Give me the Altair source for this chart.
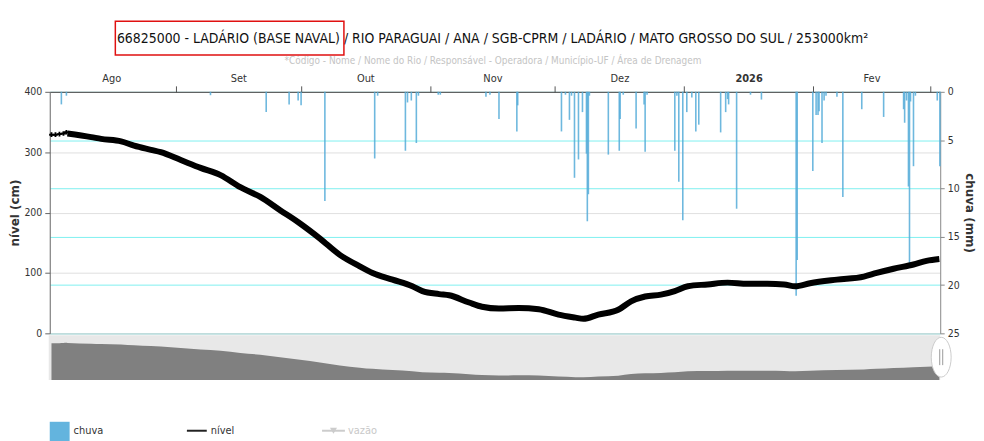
import altair as alt
import pandas as pd

# ---------------- data ----------------
meses = ['Jan', 'Fev', 'Mar', 'Abr', 'Mai', 'Jun', 'Jul', 'Ago', 'Set', 'Out', 'Nov', 'Dez']

titulo_1 = "66825000 - LADÁRIO (BASE NAVAL)"
titulo_2 = "/ RIO PARAGUAI / ANA / SGB-CPRM / LADÁRIO / MATO GROSSO DO SUL / 253000km²"
subtitulo = "*Código - Nome / Nome do Rio / Responsável - Operadora / Município-UF / Área de Drenagem"

inicio, fim = "2025-08-01T18:00:00", "2026-03-03T12:00:00"

chuva_datas = [
    "2025-08-04T13:00", "2025-08-05T18:00", "2025-09-09T08:00", "2025-09-22T17:00", "2025-09-28T05:00",
    "2025-09-30T09:00", "2025-10-01T02:00", "2025-10-06T19:00", "2025-10-18T18:00", "2025-10-19T11:00",
    "2025-10-26T03:00", "2025-10-26T15:00", "2025-10-27T13:00", "2025-10-28T18:00", "2025-10-29T06:00",
    "2025-11-03T00:00", "2025-11-03T12:00", "2025-11-14T11:00", "2025-11-15T10:00", "2025-11-17T14:00",
    "2025-11-21T21:00", "2025-11-22T02:00", "2025-12-02T14:00", "2025-12-03T13:00", "2025-12-04T12:00",
    "2025-12-05T00:00", "2025-12-05T17:00", "2025-12-06T16:00", "2025-12-07T15:00", "2025-12-08T14:00",
    "2025-12-08T19:00", "2025-12-09T01:00", "2025-12-09T07:00", "2025-12-13T20:00", "2025-12-16T11:00",
    "2025-12-16T16:00", "2025-12-17T10:00", "2025-12-20T12:00", "2025-12-22T10:00", "2025-12-22T16:00",
    "2025-12-23T03:00", "2025-12-29T19:00", "2025-12-30T07:00", "2025-12-30T18:00", "2025-12-31T17:00",
    "2026-01-01T16:00", "2026-01-02T21:00", "2026-01-03T20:00", "2026-01-04T13:00", "2026-01-09T19:00",
    "2026-01-11T00:00", "2026-01-11T11:00", "2026-01-11T17:00", "2026-01-13T15:00", "2026-01-16T23:00",
    "2026-01-19T14:00", "2026-01-27T22:00", "2026-01-28T04:00", "2026-01-31T22:00", "2026-02-01T17:00",
    "2026-02-02T04:00", "2026-02-02T10:00", "2026-02-03T03:00", "2026-02-03T15:00", "2026-02-04T02:00",
    "2026-02-06T17:00", "2026-02-08T03:00", "2026-02-12T16:00", "2026-02-17T22:00", "2026-02-22T17:00",
    "2026-02-22T23:00", "2026-02-23T10:00", "2026-02-23T21:00", "2026-02-24T03:00", "2026-02-24T09:00",
    "2026-02-25T02:00", "2026-02-25T13:00", "2026-03-02T19:00", "2026-03-03T10:00",
]
chuva_mm = [
    1.3, 0.4, 0.35, 2.1, 1.3, 0.9, 1.4, 11.3, 6.9, 0.4, 6.1, 1.1, 0.9, 5.3, 0.4,
    0.3, 0.3, 0.5, 0.3, 2.8, 4.1, 1.4, 4.1, 0.3, 2.9, 0.4, 8.9, 7.0, 2.1, 6.4,
    13.4, 10.6, 0.4, 6.5, 6.1, 2.8, 0.3, 3.8, 1.3, 6.2, 0.3, 6.1, 0.4, 9.3, 13.3,
    2.1, 0.6, 4.1, 3.4, 4.2, 2.1, 0.75, 1.3, 12.1, 0.3, 0.8, 21.1, 17.4, 8.2, 2.4,
    2.4, 2.0, 5.3, 0.9, 0.4, 0.5, 10.9, 1.8, 2.6, 1.8, 3.2, 0.9, 9.8, 17.7, 1.0,
    7.7, 0.4, 0.9, 7.7,
]

nivel_inicio_datas = ["2025-08-02T04:00", "2025-08-03T03:00", "2025-08-04T02:00",
                      "2025-08-05T01:00", "2025-08-05T18:00"]
nivel_inicio_cm = [329, 329, 330, 331, 333]

nivel_datas = [
    "2025-08-06T00:00", "2025-08-11T17:00", "2025-08-14T02:00", "2025-08-18T21:00", "2025-08-22T00:00",
    "2025-08-26T01:00", "2025-08-28T10:00", "2025-09-02T05:00", "2025-09-06T23:00", "2025-09-11T18:00",
    "2025-09-16T12:00", "2025-09-21T07:00", "2025-09-26T01:00", "2025-09-30T20:00", "2025-10-05T15:00",
    "2025-10-10T09:00", "2025-10-15T04:00", "2025-10-18T06:00", "2025-10-23T01:00", "2025-10-27T19:00",
    "2025-10-30T05:00", "2025-11-03T06:00", "2025-11-05T15:00", "2025-11-10T10:00", "2025-11-13T12:00",
    "2025-11-17T14:00", "2025-11-22T08:00", "2025-11-27T03:00", "2025-12-01T21:00", "2025-12-05T23:00",
    "2025-12-07T20:00", "2025-12-11T10:00", "2025-12-16T05:00", "2025-12-19T07:00", "2025-12-22T16:00",
    "2025-12-26T11:00", "2025-12-29T19:00", "2026-01-01T22:00", "2026-01-06T16:00", "2026-01-11T11:00",
    "2026-01-16T06:00", "2026-01-21T00:00", "2026-01-25T01:00", "2026-01-27T16:00", "2026-01-31T06:00",
    "2026-02-06T17:00", "2026-02-13T04:00", "2026-02-16T06:00", "2026-02-20T07:00", "2026-02-25T02:00",
    "2026-02-28T05:00", "2026-03-03T07:00",
]
nivel_cm = [
    331, 325, 322, 318, 311, 304, 300, 287, 274, 262,
    242, 226, 204, 182, 157, 130, 111, 100, 89, 78,
    70, 65, 63, 51, 44, 41, 42, 40, 31, 26,
    24, 31, 39, 53, 61, 64, 70, 78, 81, 84,
    82, 82, 81, 78, 83, 89, 94, 100, 107, 114,
    120, 123,
]

inicios_mes = [(2025, 9), (2025, 10), (2025, 11), (2025, 12), (2026, 1), (2026, 2), (2026, 3)]
meios_mes = [(2025, 8, 16, 12), (2025, 9, 16, 0), (2025, 10, 16, 12), (2025, 11, 16, 0),
             (2025, 12, 16, 12), (2026, 1, 16, 12), (2026, 2, 15, 0)]

legenda = ["chuva", "nível", "vazão"]

# ---------------- frames ----------------
df_chuva = pd.DataFrame({"data": chuva_datas, "mm": chuva_mm})
df_chuva["zero"] = 0
df_ini = pd.DataFrame({"data": nivel_inicio_datas, "cm": nivel_inicio_cm})
df_niv = pd.DataFrame({"data": nivel_datas, "cm": nivel_cm})
df_all = pd.concat([df_ini, df_niv], ignore_index=True)
df_all["zero"] = 0
df_tit = pd.DataFrame({"t1": [titulo_1], "t2": [titulo_2], "sub": [subtitulo]})
df_leg = pd.DataFrame({"label": legenda})
one = pd.DataFrame({"k": [0]})

FONT = "Liberation Sans Narrow, DejaVu Sans Condensed, sans-serif"
W, H = 896, 243
NAV_TOP, NAV_H = H + 2, 45

# ---------------- title panel ----------------
SPLIT = 292
t1 = alt.Chart(df_tit).mark_text(align="right", baseline="middle", font=FONT, fontSize=14,
                                 color="#111").encode(x=alt.value(SPLIT), y=alt.value(30), text="t1:N")
t2 = alt.Chart(df_tit).mark_text(align="left", baseline="middle", font=FONT, fontSize=14,
                                 color="#111").encode(x=alt.value(SPLIT + 4), y=alt.value(30), text="t2:N")
sub = alt.Chart(df_tit).mark_text(align="center", baseline="middle", font=FONT, fontSize=10,
                                  color="#c4c4c4").encode(x=alt.value(446), y=alt.value(52), text="sub:N")
caixa = alt.Chart(one).mark_rect(filled=False, stroke="#e01010", strokeWidth=1.5).encode(
    x=alt.value(SPLIT - 226), x2=alt.value(SPLIT + 4), y=alt.value(12), y2=alt.value(46))
top = alt.layer(t1, t2, sub, caixa).properties(width=W, height=62)

# ---------------- main ----------------
xscale = alt.Scale(domain=[inicio, fim])
nome_mes = "[" + ",".join("'%s'" % m for m in meses) + "]"

ax_ticks = alt.Axis(orient="top", values=[alt.DateTime(year=y, month=m, date=1) for y, m in inicios_mes],
                    labels=False, ticks=True, tickSize=6, tickColor="#555", domain=True,
                    domainColor="#444", grid=False, title=None)
ax_labels = alt.Axis(orient="top",
                     values=[alt.DateTime(year=y, month=m, date=d, hours=h) for y, m, d, h in meios_mes],
                     ticks=False, tickSize=0, domain=False, grid=False, title=None,
                     labelExpr="month(datum.value)==0 ? ''+year(datum.value) : " + nome_mes + "[month(datum.value)]",
                     labelFont=FONT, labelFontSize=11, labelColor="#333", labelPadding=8,
                     labelFontWeight={"condition": {"test": "month(datum.value)==0", "value": "bold"},
                                      "value": "normal"})

ax_left = alt.Axis(orient="left", values=[0, 100, 200, 300, 400], grid=True, gridColor="#e0e0e0",
                   domain=True, domainColor="#666", ticks=True, tickSize=5, tickColor="#666",
                   labelFont=FONT, labelFontSize=10.5, labelColor="#333", labelPadding=3,
                   title="nível (cm)", titleFont="DejaVu Sans", titleFontSize=12,
                   titleFontWeight="bold", titleColor="#333", titlePadding=2)
ax_right = alt.Axis(orient="right", values=[0, 5, 10, 15, 20, 25], grid=True,
                    gridColor={"condition": {"test": "datum.value==25", "value": "#3cbcbc"}, "value": "#7ff0f0"},
                    domain=True, domainColor="#888", ticks=True, tickSize=4, tickColor="#888",
                    labelFont=FONT, labelFontSize=10.5, labelColor="#333", labelPadding=3,
                    title="chuva (mm)", titleFont="DejaVu Sans", titleFontSize=12,
                    titleFontWeight="bold", titleColor="#333", titlePadding=3)

chuva = alt.Chart(df_chuva).mark_rule(color="#55acd8", strokeWidth=1.6, opacity=0.85).encode(
    x=alt.X("data:T", scale=xscale, axis=ax_ticks),
    y=alt.Y("mm:Q", scale=alt.Scale(domain=[0, 25], reverse=True), axis=ax_right),
    y2="zero:Q",
)

yniv = alt.Scale(domain=[0, 400])
nivel = alt.Chart(df_niv).mark_line(color="black", strokeWidth=6, interpolate="monotone").encode(
    x=alt.X("data:T", scale=xscale, axis=ax_labels),
    y=alt.Y("cm:Q", scale=yniv, axis=ax_left),
)
ini_line = alt.Chart(df_ini).mark_line(color="black", strokeWidth=1.5).encode(
    x=alt.X("data:T", scale=xscale, axis=None),
    y=alt.Y("cm:Q", scale=yniv, axis=None),
)
ini_pts = alt.Chart(df_ini).mark_point(shape="cross", filled=True, color="black", size=22, opacity=1).encode(
    x=alt.X("data:T", scale=xscale, axis=None),
    y=alt.Y("cm:Q", scale=yniv, axis=None),
)

# navigator (drawn just below the plot area, on its own y scale)
nav_bg = alt.Chart(one).mark_rect(color="#e8e8e8", opacity=1).encode(
    x=alt.value(-1), x2=alt.value(W), y=alt.value(NAV_TOP), y2=alt.value(NAV_TOP + NAV_H))
nav_area = alt.Chart(df_all).mark_area(color="#808080", interpolate="monotone").encode(
    x=alt.X("data:T", scale=xscale, axis=None),
    y=alt.Y("cm:Q", scale=alt.Scale(domain=[0, 400], range=[NAV_TOP + NAV_H, NAV_TOP]), axis=None),
    y2="zero:Q",
)
ellipse = "M0,-1 C0.276,-1 0.5,-0.552 0.5,0 C0.5,0.552 0.276,1 0,1 C-0.276,1 -0.5,0.552 -0.5,0 C-0.5,-0.552 -0.276,-1 0,-1 Z"
handle = alt.Chart(one).mark_point(shape=ellipse, filled=True, fill="white", stroke="#cccccc",
                                   strokeWidth=1, size=1600, opacity=1).encode(
    x=alt.value(W + 1), y=alt.value(NAV_TOP + 22))
bar1 = alt.Chart(one).mark_rule(color="#999", strokeWidth=1).encode(
    x=alt.value(W - 0.5), y=alt.value(NAV_TOP + 14), y2=alt.value(NAV_TOP + 30))
bar2 = alt.Chart(one).mark_rule(color="#999", strokeWidth=1).encode(
    x=alt.value(W + 2.5), y=alt.value(NAV_TOP + 14), y2=alt.value(NAV_TOP + 30))

main = alt.layer(nav_bg, nav_area, chuva, nivel, ini_line, ini_pts, handle, bar1, bar2).resolve_scale(
    y="independent").resolve_axis(x="independent").properties(width=W, height=H)

# ---------------- legend ----------------
LY = 49
leg_sq = alt.Chart(one).mark_square(color="#63b4de", size=400, opacity=1).encode(
    x=alt.value(10), y=alt.value(LY + 1))
leg_t1 = alt.Chart(df_leg.iloc[[0]]).mark_text(align="left", baseline="middle", font=FONT,
                                               fontSize=11, color="#333").encode(
    x=alt.value(24), y=alt.value(LY), text="label:N")
leg_l2 = alt.Chart(one).mark_rule(color="#222", strokeWidth=2).encode(
    x=alt.value(138), x2=alt.value(158), y=alt.value(LY))
leg_t2 = alt.Chart(df_leg.iloc[[1]]).mark_text(align="left", baseline="middle", font=FONT,
                                               fontSize=11, color="#333").encode(
    x=alt.value(162), y=alt.value(LY), text="label:N")
leg_l3 = alt.Chart(one).mark_rule(color="#cccccc", strokeWidth=2).encode(
    x=alt.value(274), x2=alt.value(297), y=alt.value(LY))
leg_p3 = alt.Chart(one).mark_point(shape="triangle-down", filled=True, color="#cccccc", size=50,
                                   opacity=1).encode(x=alt.value(285.5), y=alt.value(LY))
leg_t3 = alt.Chart(df_leg.iloc[[2]]).mark_text(align="left", baseline="middle", font=FONT,
                                               fontSize=11, color="#c8c8c8").encode(
    x=alt.value(300), y=alt.value(LY), text="label:N")
leg = alt.layer(leg_sq, leg_t1, leg_l2, leg_t2, leg_l3, leg_p3, leg_t3).properties(
    width=W, height=52)

chart = alt.vconcat(top, main, leg, spacing=2).properties(
    padding={"left": 0, "top": 0, "right": 0, "bottom": 0}
).configure_view(stroke=None).configure_concat(spacing=2)

chart.save("out.html", embed_options={"renderer": "svg", "actions": False})
